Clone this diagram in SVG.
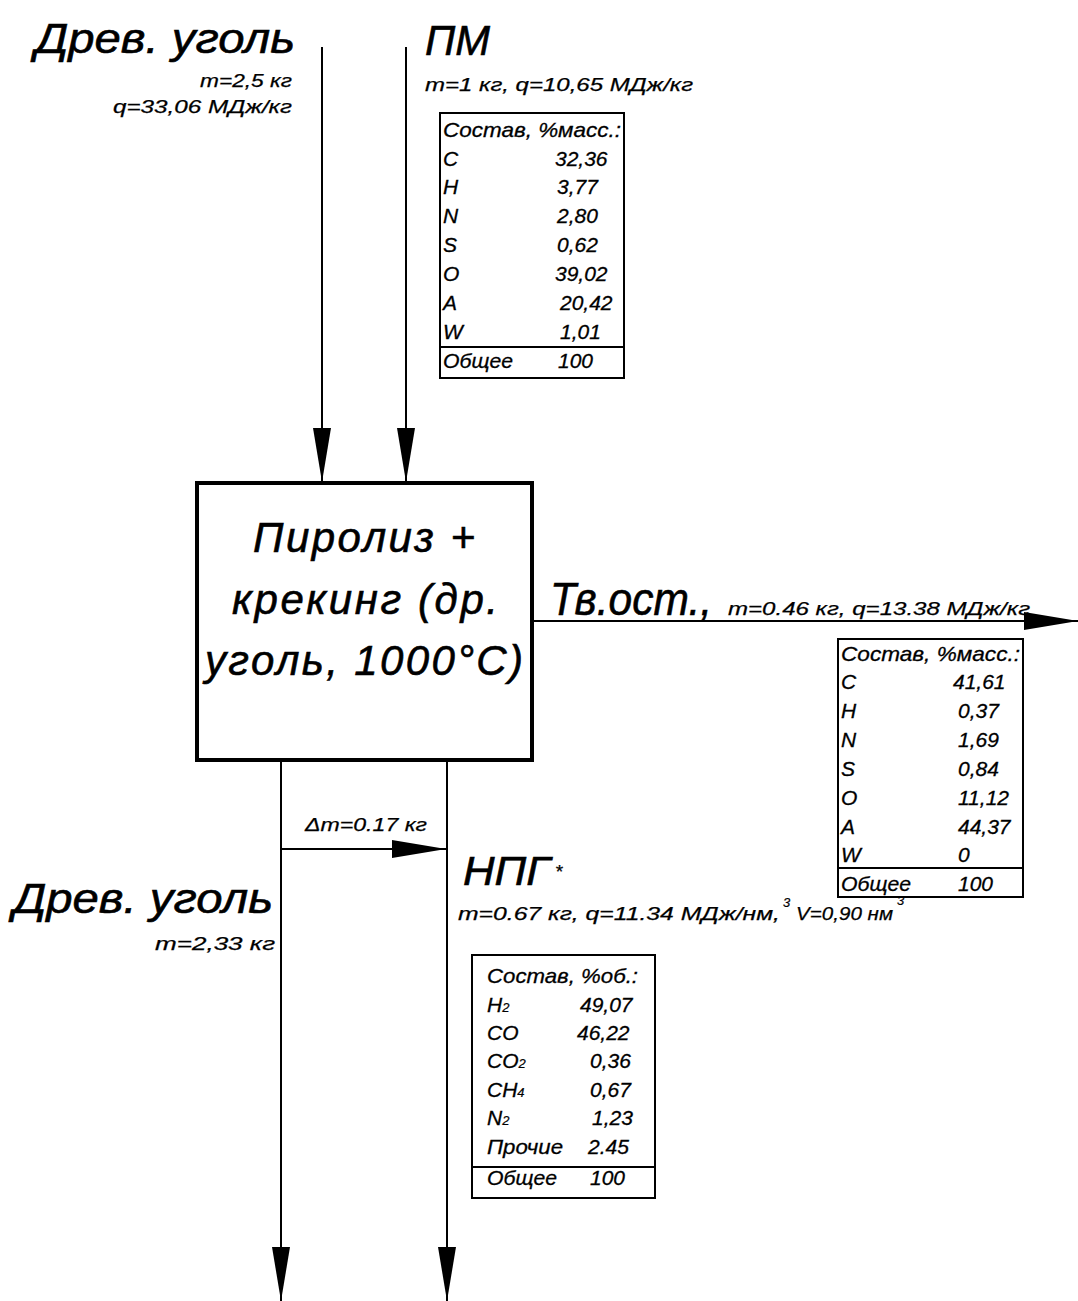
<svg xmlns="http://www.w3.org/2000/svg" width="1078" height="1301" viewBox="0 0 1078 1301">
<style>
text{font-family:"Liberation Sans",Arial,sans-serif;font-style:italic;fill:#000;stroke:#000}
.big{font-size:42px;stroke-width:0.6}
.sm{font-size:19px;stroke-width:0.25}
.tb{font-size:21px;stroke-width:0.3}
.sub{font-size:13px;stroke-width:0.2}
.ln{stroke:#000;stroke-width:2;fill:none}
.tab{stroke:#000;stroke-width:2;fill:#fff}
.box{stroke:#000;stroke-width:4;fill:#fff}
</style>
<defs>
<marker id="ah" markerUnits="userSpaceOnUse" markerWidth="56" markerHeight="20" refX="54" refY="9" orient="auto">
<path d="M0,0 L54,9 L0,18 z" fill="#000"/>
</marker>
</defs>
<rect width="1078" height="1301" fill="#fff"/>

<g id="connectors">
<line class="ln" x1="322" y1="47" x2="322" y2="482" marker-end="url(#ah)"/>
<line class="ln" x1="406" y1="47" x2="406" y2="482" marker-end="url(#ah)"/>
<line class="ln" x1="532" y1="621" x2="1078" y2="621" marker-end="url(#ah)"/>
<line class="ln" x1="281" y1="762" x2="281" y2="1301" marker-end="url(#ah)"/>
<line class="ln" x1="447" y1="762" x2="447" y2="1301" marker-end="url(#ah)"/>
<line class="ln" x1="281" y1="849" x2="446" y2="849" marker-end="url(#ah)"/>
<text class="sm" x="305" y="831" textLength="122" lengthAdjust="spacingAndGlyphs">Δm=0.17 кг</text>
</g>

<g id="input-wood-coal">
<text class="big" x="35" y="53" textLength="260" lengthAdjust="spacingAndGlyphs">Древ. уголь</text>
<text class="sm" x="200" y="87" textLength="92" lengthAdjust="spacingAndGlyphs">m=2,5 кг</text>
<text class="sm" x="113" y="113" textLength="179" lengthAdjust="spacingAndGlyphs">q=33,06 МДж/кг</text>
</g>

<g id="input-pm">
<text class="big" x="425" y="55" textLength="65" lengthAdjust="spacingAndGlyphs">ПМ</text>
<text class="sm" x="425" y="91" textLength="268" lengthAdjust="spacingAndGlyphs">m=1 кг, q=10,65 МДж/кг</text>
<rect class="tab" x="440" y="113" width="184" height="265"/>
<line class="ln" x1="440" y1="347" x2="624" y2="347"/>
<text class="tb" x="443" y="137" textLength="178" lengthAdjust="spacingAndGlyphs">Состав, %масс.:</text>
<text class="tb" x="443" y="166">C</text><text class="tb" x="555" y="166">32,36</text>
<text class="tb" x="443" y="194">H</text><text class="tb" x="557" y="194">3,77</text>
<text class="tb" x="443" y="223">N</text><text class="tb" x="557" y="223">2,80</text>
<text class="tb" x="443" y="252">S</text><text class="tb" x="557" y="252">0,62</text>
<text class="tb" x="443" y="281">O</text><text class="tb" x="555" y="281">39,02</text>
<text class="tb" x="443" y="310">A</text><text class="tb" x="560" y="310">20,42</text>
<text class="tb" x="443" y="339">W</text><text class="tb" x="560" y="339">1,01</text>
<text class="tb" x="443" y="368" textLength="70" lengthAdjust="spacingAndGlyphs">Общее</text><text class="tb" x="558" y="368">100</text>
</g>

<g id="process">
<rect class="box" x="197" y="483" width="335" height="277"/>
<text class="big" x="253" y="552" textLength="222">Пиролиз +</text>
<text class="big" x="232" y="614" textLength="266">крекинг (др.</text>
<text class="big" x="205" y="675" textLength="318">уголь, 1000°С)</text>
</g>

<g id="output-solid">
<text class="big" x="550" y="615" style="font-size:46px" textLength="162" lengthAdjust="spacingAndGlyphs">Тв.ост.,</text>
<text class="sm" x="728" y="615" textLength="302" lengthAdjust="spacingAndGlyphs">m=0.46 кг, q=13.38 МДж/кг</text>
<rect class="tab" x="838" y="639" width="185" height="258"/>
<line class="ln" x1="838" y1="868" x2="1023" y2="868"/>
<text class="tb" x="841" y="661" textLength="179" lengthAdjust="spacingAndGlyphs">Состав, %масс.:</text>
<text class="tb" x="841" y="689">C</text><text class="tb" x="953" y="689">41,61</text>
<text class="tb" x="841" y="718">H</text><text class="tb" x="958" y="718">0,37</text>
<text class="tb" x="841" y="747">N</text><text class="tb" x="958" y="747">1,69</text>
<text class="tb" x="841" y="776">S</text><text class="tb" x="958" y="776">0,84</text>
<text class="tb" x="841" y="805">O</text><text class="tb" x="958" y="805">11,12</text>
<text class="tb" x="841" y="834">A</text><text class="tb" x="958" y="834">44,37</text>
<text class="tb" x="841" y="862">W</text><text class="tb" x="958" y="862">0</text>
<text class="tb" x="841" y="891" textLength="70" lengthAdjust="spacingAndGlyphs">Общее</text><text class="tb" x="958" y="891">100</text>
</g>

<g id="output-wood-coal">
<text class="big" x="13" y="913" textLength="260" lengthAdjust="spacingAndGlyphs">Древ. уголь</text>
<text class="sm" x="155" y="950" textLength="120" lengthAdjust="spacingAndGlyphs">m=2,33 кг</text>
</g>

<g id="output-gas">
<text class="big" x="463" y="885" style="font-size:40px" textLength="87" lengthAdjust="spacingAndGlyphs">НПГ</text>
<text class="sm" x="555" y="878">*</text>
<text class="sm" x="458" y="920" textLength="322" lengthAdjust="spacingAndGlyphs">m=0.67 кг, q=11.34 МДж/нм,</text>
<text class="sub" x="783" y="907">3</text>
<text class="sm" x="796" y="920" textLength="97" lengthAdjust="spacingAndGlyphs">V=0,90 нм</text>
<text class="sub" x="897" y="905">3</text>
<rect class="tab" x="472" y="955" width="183" height="243"/>
<line class="ln" x1="472" y1="1167" x2="655" y2="1167"/>
<text class="tb" x="487" y="983" textLength="151" lengthAdjust="spacingAndGlyphs">Состав, %об.:</text>
<text class="tb" x="487" y="1012">H<tspan class="sub">2</tspan></text><text class="tb" x="580" y="1012">49,07</text>
<text class="tb" x="487" y="1040">CO</text><text class="tb" x="577" y="1040">46,22</text>
<text class="tb" x="487" y="1068">CO<tspan class="sub">2</tspan></text><text class="tb" x="590" y="1068">0,36</text>
<text class="tb" x="487" y="1097">CH<tspan class="sub">4</tspan></text><text class="tb" x="590" y="1097">0,67</text>
<text class="tb" x="487" y="1125">N<tspan class="sub">2</tspan></text><text class="tb" x="592" y="1125">1,23</text>
<text class="tb" x="487" y="1154" textLength="76" lengthAdjust="spacingAndGlyphs">Прочие</text><text class="tb" x="588" y="1154">2.45</text>
<text class="tb" x="487" y="1185" textLength="70" lengthAdjust="spacingAndGlyphs">Общее</text><text class="tb" x="590" y="1185">100</text>
</g>
</svg>
